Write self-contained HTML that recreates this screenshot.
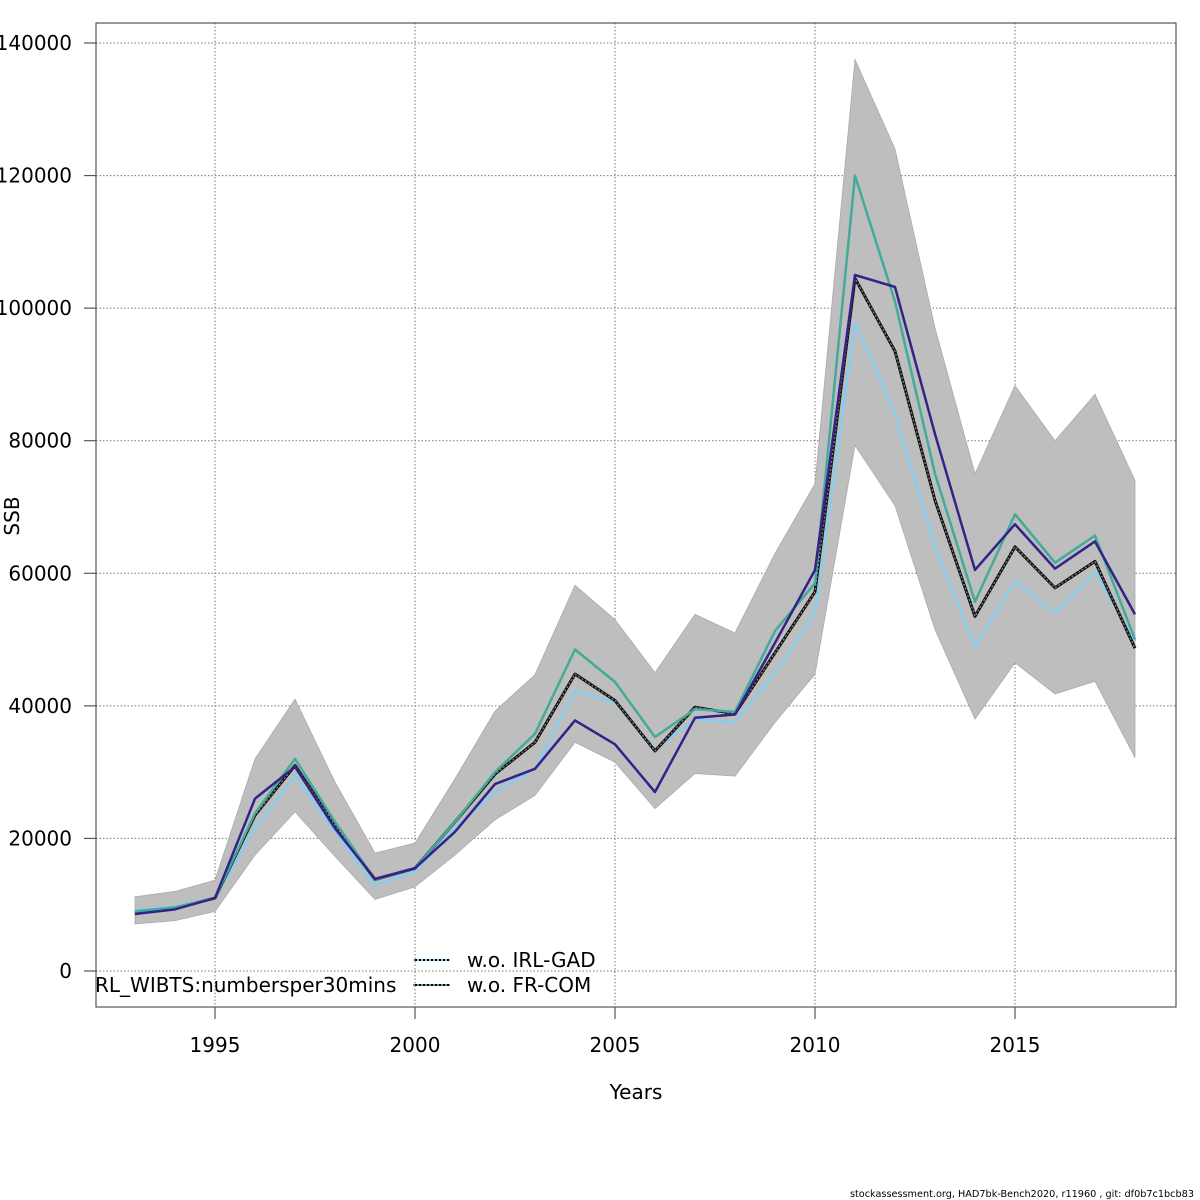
<!DOCTYPE html>
<html><head><meta charset="utf-8">
<style>
html,body{margin:0;padding:0;background:#fff;}
svg{display:block;font-family:"DejaVu Sans","Liberation Sans",sans-serif;}
</style></head><body>
<svg id="chart" width="1200" height="1200" viewBox="0 0 1200 1200">
<g id="grid"></g>
<g id="band"></g>
<g id="lines"></g>
<rect x="96" y="23" width="1080" height="984" fill="none" stroke="#555" stroke-width="1.2"/>
<g id="axes"></g>
<text x="636" y="1099" font-size="20" text-anchor="middle">Years</text>
<text transform="translate(19,516) rotate(-90)" font-size="20" text-anchor="middle">SSB</text>
<g>
<text x="95" y="992" font-size="20">RL_WIBTS:numbersper30mins</text>
<line x1="413" y1="960" x2="450" y2="960" stroke="#000" stroke-width="2"/>
<line x1="413" y1="960" x2="450" y2="960" stroke="#88ccee" stroke-width="2" stroke-dasharray="2,2"/>
<text x="467" y="967" font-size="20">w.o. IRL-GAD</text>
<line x1="413" y1="985" x2="450" y2="985" stroke="#000" stroke-width="2"/>
<line x1="413" y1="985" x2="450" y2="985" stroke="#44aa99" stroke-width="2" stroke-dasharray="2,2"/>
<text x="467" y="992" font-size="20">w.o. FR-COM</text>
</g>
<text x="1194" y="1197" font-size="9.7" text-anchor="end">stockassessment.org, HAD7bk-Bench2020, r11960 , git: df0b7c1bcb83</text>
</svg>
<script>
const years=[1993,1994,1995,1996,1997,1998,1999,2000,2001,2002,2003,2004,2005,2006,2007,2008,2009,2010,2011,2012,2013,2014,2015,2016,2017,2018];
const upper=[11200,12000,13700,32000,41000,28500,17800,19300,29000,39200,44700,58200,53000,45000,53800,51000,63000,73500,137500,124000,97000,75000,88300,80000,87000,74000];
const lower=[7100,7600,9000,17500,24000,17300,10800,12700,17500,22800,26500,34500,31500,24500,29800,29400,37500,44800,79300,70200,51500,38000,46500,41800,43700,32200];
const baseSSB=[8700,9500,11000,23500,31000,22000,13800,15500,22500,29700,34500,44800,40800,33200,39800,38800,48000,57200,104500,93500,71000,53500,64000,57800,61800,48700];
const navySSB=[8600,9300,11000,26000,30800,21500,13900,15500,21000,28200,30500,37800,34200,27000,38200,38700,49500,60500,105000,103200,81000,60500,67400,60700,64800,53800];
const tealSSB=[9000,9600,11000,23800,32000,22500,13800,15500,22500,30000,35800,48500,43600,35300,39500,39100,51300,58500,120000,101000,75000,55700,68900,61600,65700,50000];
const lightSSB=[9200,9700,11000,21500,29500,21000,12900,15000,21500,27000,30500,42300,40500,33500,38000,37500,45000,54000,97800,84000,64000,48900,58800,54000,60200,49700];
const xTicks=[1995,2000,2005,2010,2015];
const yTicks=[0,20000,40000,60000,80000,100000,120000,140000];

const NS='http://www.w3.org/2000/svg';
const xs=y=>215+(y-1995)*40;
const ys=v=>971-v*928/140000;
function mk(tag,attrs,parent){const e=document.createElementNS(NS,tag);for(const k in attrs)e.setAttribute(k,attrs[k]);parent.appendChild(e);return e;}
const grid=document.getElementById('grid'),axes=document.getElementById('axes'),band=document.getElementById('band'),lines=document.getElementById('lines');
xTicks.forEach(t=>{
  const g=mk('line',{x1:xs(t),x2:xs(t),y1:23,y2:1007,stroke:'#777','stroke-width':1,'stroke-dasharray':'1.5,2'},grid);
  
  
  const tk=mk('line',{x1:xs(t),x2:xs(t),y1:1007,y2:1019,stroke:'#555','stroke-width':1.2},axes);
  
  
  const tx=mk('text',{x:xs(t),y:1052,'font-size':20,'text-anchor':'middle'},axes);
  tx.textContent=t;
  
  
});
yTicks.forEach(t=>{
  const g=mk('line',{x1:96,x2:1176,y1:ys(t),y2:ys(t),stroke:'#777','stroke-width':1,'stroke-dasharray':'1.5,2'},grid);
  
  
  const tk=mk('line',{x1:84,x2:96,y1:ys(t),y2:ys(t),stroke:'#555','stroke-width':1.2},axes);
  
  
  const tx=mk('text',{x:72,y:ys(t)+7,'font-size':20,'text-anchor':'end'},axes);
  tx.textContent=t;
  
  
});
let pts=years.map((y,i)=>xs(y)+','+ys(upper[i]));
for(let i=years.length-1;i>=0;i--)pts.push(xs(years[i])+','+ys(lower[i]));
const poly=mk('polygon',{points:pts.join(' '),fill:'#bebebe',stroke:'#aaa','stroke-width':0.8},band);


function line(vals,color,w,name,dash){
  const p=mk('polyline',{points:years.map((y,i)=>xs(y)+','+ys(vals[i])).join(' '),fill:'none',stroke:color,'stroke-width':w,'stroke-linejoin':'round'},lines);
  if(dash)p.setAttribute('stroke-dasharray',dash);
  
  
}
line(lightSSB,'#88ccee',2.5,'line-wo-irl-gad');
line(baseSSB,'#111',3,'line-base');
line(baseSSB,'#888',1.2,'line-base-dots','2,2');
line(tealSSB,'#44aa99',2.5,'line-wo-fr-com');
line(navySSB,'#332288',2.5,'line-navy');
</script>
</body></html>
